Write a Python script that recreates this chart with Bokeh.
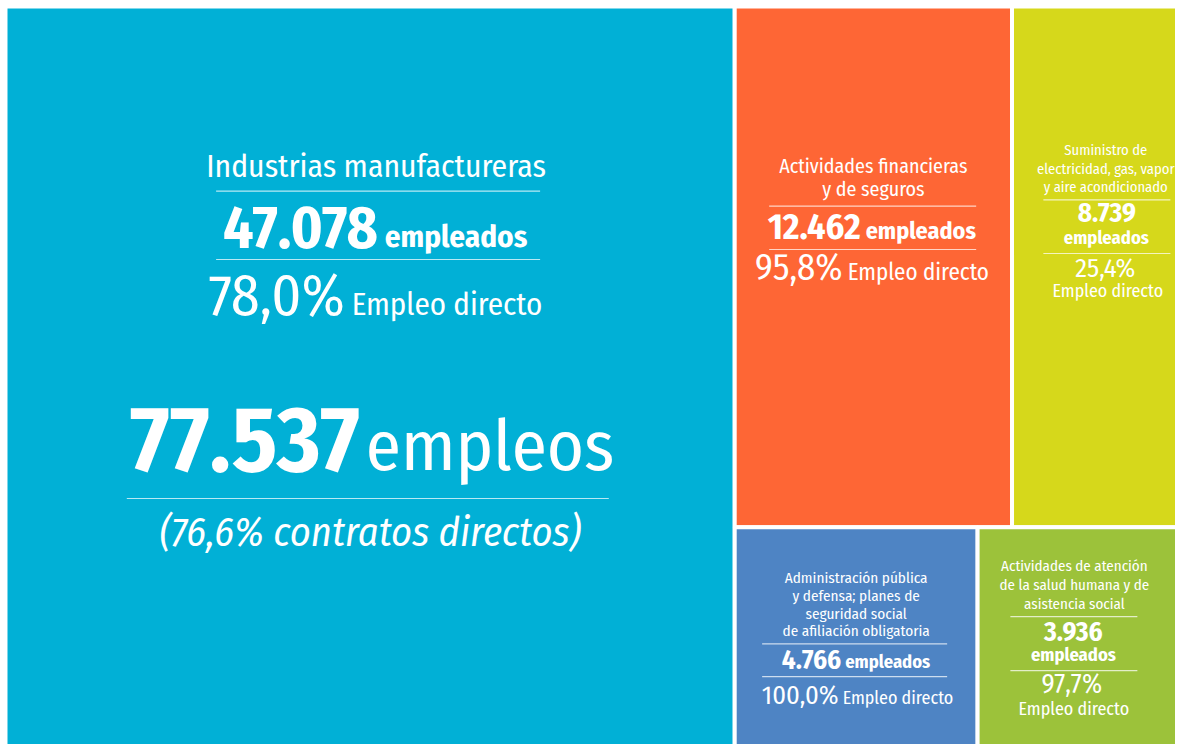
from bokeh.plotting import figure
from bokeh.embed import file_html
from bokeh.resources import INLINE
from bokeh.core.properties import value
from bokeh.models import Range1d

# ---------------- data ----------------
categories = [
    "Industrias manufactureras",
    "Actividades financieras y de seguros",
    "Suministro de electricidad, gas, vapor y aire acondicionado",
    "Administración pública y defensa; planes de seguridad social de afiliación obligatoria",
    "Actividades de atención de la salud humana y de asistencia social",
]
title_lines = [
    ["Industrias manufactureras"],
    ["Actividades financieras", "y de seguros"],
    ["Suministro de", "electricidad, gas, vapor", "y aire acondicionado"],
    ["Administración pública", "y defensa; planes de", "seguridad social", "de afiliación obligatoria"],
    ["Actividades de atención", "de la salud humana y de", "asistencia social"],
]
empleados = [47078, 12462, 8739, 4766, 3936]
empleo_directo = [78.0, 95.8, 25.4, 100.0, 97.7]
total_empleos = 77537
contratos_directos = 76.6
colors = ["#01B0D6", "#FE6635", "#D6D81B", "#4E84C4", "#9CC23A"]
otros_color = "#01B0D6"

FONT = value("Fira Sans Condensed")
BASE_K = 0.35  # baseline correction for the svg text placement


def fmt_int(v):
    return f"{v:,}".replace(",", ".")


def fmt_pct(v):
    return f"{v:.1f}".replace(".", ",") + "%"


# ---------------- treemap layout ----------------
otros = total_empleos - sum(empleados)
vals = empleados + [otros]
X0, Y0, W, H = 5.0, 6.0, 1201.0, 748.0
T = float(sum(vals))
rects = []
wc = W * vals[0] / T
rects.append((X0, Y0, X0 + wc, Y0 + H))
rest = T - vals[0]
rw = W - wc
rows = [[1, 2], [3, 4, 5]]
y = Y0
for row in rows:
    rs = sum(vals[i] for i in row)
    rh = H * rs / rest
    x = X0 + wc
    for i in row:
        w = rw * vals[i] / rs
        rects.append((x, y, x + w, y + rh))
        x += w
    y += rh

p = figure(width=1175, height=744, output_backend="svg", toolbar_location=None,
           x_range=Range1d(0, 1175), y_range=Range1d(744, 0), min_border=0)
p.axis.visible = False
p.grid.visible = False
p.outline_line_color = None
p.background_fill_color = "white"
p.border_fill_color = "white"

fills = colors + [otros_color]
p.quad(left=[r[0] for r in rects], right=[r[2] for r in rects],
       top=[r[1] for r in rects], bottom=[r[3] for r in rects],
       fill_color=fills, line_color="white", line_width=4)


def txt(x, y, s, size, style="normal", align="center"):
    p.text(x=[x], y=[y - BASE_K * size], text=[s], text_font=FONT,
           text_font_size=f"{size}px", text_font_style=style, text_align=align,
           text_baseline="alphabetic", text_color="white")


def rule(cx, y, half):
    p.segment(x0=[cx - half], y0=[y], x1=[cx + half], y1=[y],
              line_color="white", line_alpha=0.72, line_width=1.2)


def pair(split, y, a, asize, astyle, b, bsize, bstyle, gap):
    txt(split - gap, y, a, asize, astyle, "right")
    txt(split + gap, y, b, bsize, bstyle, "left")


def center_top(i):
    r = rects[i]
    return (r[0] + r[2]) / 2.0, r[1]


# Block 0: Industrias manufactureras
cx, t = center_top(0)
txt(cx + 6, t + 171, title_lines[0][0], 31.6)
rule(cx + 8, t + 184.7, 162)
pair(cx + 11.2, t + 241, fmt_int(empleados[0]), 59.5, "bold", "empleados", 31, "bold", 3.5)
rule(cx + 8, t + 253, 162)
pair(cx - 21.8, t + 309, fmt_pct(empleo_directo[0]), 58, "normal", "Empleo directo", 31, "normal", 3.5)
pair(cx - 7.3, t + 465, fmt_int(total_empleos), 93, "bold", "empleos", 71, "normal", 3)
rule(cx - 2.3, t + 492, 241)
txt(cx + 0.2, t + 540, f"({fmt_pct(contratos_directos)} contratos directos)", 40.3, "italic")

# Block 1: Actividades financieras
cx, t = center_top(1)
for k, ln in enumerate(title_lines[1]):
    txt(cx, t + 166 + 23 * k, ln, 20)
rule(cx - 0.7, t + 199.7, 103.5)
pair(cx - 10.2, t + 233, fmt_int(empleados[1]), 36, "bold", "empleados", 24, "bold", 2.5)
rule(cx - 0.7, t + 243, 103.5)
pair(cx - 28.2, t + 274, fmt_pct(empleo_directo[1]), 36.5, "normal", "Empleo directo", 23, "normal", 2.5)

# Block 2: Suministro de electricidad
cx, t = center_top(2)
for k, ln in enumerate(title_lines[2]):
    txt(cx - 3.5, t + 149 + 18.3 * k, ln, 14.6)
rule(cx - 2.4, t + 193.3, 63.5)
txt(cx - 2.4, t + 215.7, fmt_int(empleados[2]), 27, "bold")
txt(cx - 2.9, t + 238, "empleados", 18.5, "bold")
rule(cx - 2.4, t + 247, 63.5)
txt(cx - 3.9, t + 270.7, fmt_pct(empleo_directo[2]), 26.5)
txt(cx - 1.4, t + 290.7, "Empleo directo", 18)

# Block 3: Administración pública
cx, t = center_top(3)
for k, ln in enumerate(title_lines[3]):
    txt(cx, t + 56.1 + 17.8 * k, ln, 15.2)
rule(cx - 1.5, t + 116.7, 92.5)
pair(cx - 13, t + 141.7, fmt_int(empleados[3]), 27, "bold", "empleados", 18.5, "bold", 2)
rule(cx - 1.5, t + 149.4, 92.5)
pair(cx - 15.5, t + 176.7, fmt_pct(empleo_directo[3]), 26.5, "normal", "Empleo directo", 18, "normal", 2)

# Block 4: Salud humana
cx, t = center_top(4)
for k, ln in enumerate(title_lines[4]):
    txt(cx - 3.5, t + 44.1 + 18.8 * k, ln, 15)
rule(cx - 4, t + 89.4, 63.5)
txt(cx - 4.5, t + 113.4, fmt_int(empleados[4]), 27, "bold")
txt(cx - 4.5, t + 134.1, "empleados", 18.5, "bold")
rule(cx - 4, t + 143.4, 63.5)
txt(cx - 6, t + 166.7, fmt_pct(empleo_directo[4]), 27)
txt(cx - 4, t + 188.4, "Empleo directo", 18)

open("out.html", "w").write(file_html(p, INLINE))
